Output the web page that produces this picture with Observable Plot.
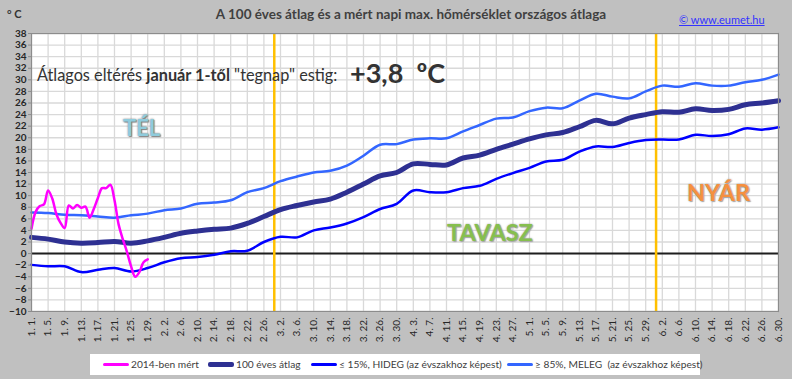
<!DOCTYPE html>
<html><head><meta charset="utf-8">
<script src="https://cdn.jsdelivr.net/npm/d3@7"></script>
<script src="https://cdn.jsdelivr.net/npm/@observablehq/plot@0.6"></script>
<style>
body{margin:0;background:#c0c0c0;}
#wrap{position:relative;width:792px;height:379px;background:#c0c0c0;overflow:hidden;font-family:Lato,"Liberation Sans",sans-serif;color:#404040;}
#wrap svg{position:absolute;left:0;top:0;}
.abs{position:absolute;white-space:nowrap;}
#unit{left:7px;top:7px;font-size:11px;font-weight:bold;color:#333;}
#title{left:0;width:822px;text-align:center;top:6px;font-size:13.5px;font-weight:bold;color:#404040;}
#link{left:679px;top:13px;font-size:11px;color:#3333ff;text-decoration:underline;}
#note{left:37px;top:65px;font-size:16.3px;color:#333;}
#dev{left:350px;top:56px;font-size:27px;font-weight:bold;color:#333;}
.season{font-weight:bold;}
#tel{left:123px;top:114px;font-size:22px;color:#8fcbdc;text-shadow:0 0 2px #777,1px 1px 1px #888;}
#tavasz{left:447px;top:218px;font-size:23.5px;color:#86bf4e;text-shadow:0 0 2px #999,1px 1px 1px #aaa;}
#nyar{left:687px;top:178px;font-size:23.5px;color:#f5903f;text-shadow:0 0 2px #999,1px 1px 1px #aaa;}
#legend{left:90px;top:354px;width:610px;height:21px;background:#fff;font-size:10.2px;color:#404040;}
.li{position:absolute;top:4px;display:flex;align-items:center;white-space:nowrap;}
.sw{display:inline-block;width:26px;margin-right:2px;border-radius:2px;}
</style></head><body>
<div id="wrap"></div>
<script>
// ---- data ----
const tickLabels = ["1. 1.","1. 5.","1. 9.","1. 13.","1. 17.","1. 21.","1. 25.","1. 29.","2. 2.","2. 6.","2. 10.","2. 14.","2. 18.","2. 22.","2. 26.","3. 2.","3. 6.","3. 10.","3. 14.","3. 18.","3. 22.","3. 26.","3. 30.","4. 3.","4. 7.","4. 11.","4. 15.","4. 19.","4. 23.","4. 27.","5. 1.","5. 5.","5. 9.","5. 13.","5. 17.","5. 21.","5. 25.","5. 29.","6. 2.","6. 6.","6. 10.","6. 14.","6. 18.","6. 22.","6. 26.","6. 30."];
const avg100 = [2.8,2.5,2.0,1.8,1.9,2.1,1.8,2.2,2.8,3.5,3.9,4.2,4.4,5.2,6.4,7.6,8.3,8.9,9.4,10.6,12.0,13.4,14.0,15.5,15.4,15.3,16.5,17.0,18.0,18.9,19.8,20.5,20.9,21.9,23.0,22.4,23.4,24.0,24.5,24.4,25.0,24.7,24.9,25.7,26.0,26.4];
const cold15 = [-1.95,-2.2,-2.2,-3.2,-2.8,-2.5,-3.1,-2.5,-1.5,-0.8,-0.6,-0.2,0.4,0.5,2.0,2.9,2.8,4.0,4.5,5.2,6.3,7.7,8.6,10.9,10.6,10.6,11.3,11.7,12.9,13.9,14.8,15.9,16.2,17.6,18.5,18.4,19.1,19.6,19.7,19.7,20.5,20.3,20.6,21.6,21.4,21.8];
const warm85 = [7.1,7.0,6.7,6.6,6.4,6.2,6.6,6.9,7.5,7.8,8.6,8.8,9.2,10.6,11.3,12.5,13.3,14.0,14.3,15.2,16.9,18.8,18.9,19.7,19.9,19.9,21.1,22.2,23.3,23.5,24.6,25.2,25.1,26.4,27.6,27.1,26.8,28.0,29.0,28.8,29.4,29.0,29.0,29.6,30.0,30.9];
const measured2014 = [4.3,7.2,8.2,8.5,10.9,9.5,6.8,5.3,4.4,8.3,7.8,8.4,7.9,8.1,6.2,7.7,9.6,11.3,11.3,11.9,9.2,5.0,2.5,0.3,-2.2,-4.0,-3.2,-1.5,-1.0];
const seasonStarts = ["3. 1.","6. 1."];
const yTicks = [-10,-8,-6,-4,-2,0,2,4,6,8,10,12,14,16,18,20,22,24,26,28,30,32,34,36,38];
const deviation = "+3,8";

// ---- helpers ----
const start = new Date(2014,0,1);
function dayIndex(s){const [m,d]=s.split(".").map(t=>+t.trim()); return d3.timeDay.count(start,new Date(2014,m-1,d));}
const tickDays = tickLabels.map(dayIndex);
const labelOf = new Map(tickDays.map((d,i)=>[d,tickLabels[i]]));
const clim = tickLabels.map((l,i)=>({day:tickDays[i],avg:avg100[i],cold:cold15[i],warm:warm85[i]}));
const meas = measured2014.map((v,i)=>({day:i,v}));
const bounds = seasonStarts.map(s=>dayIndex(s)-0.5);

const chart = Plot.plot({
  width:792,height:379,
  marginLeft:31,marginRight:14,marginTop:33,marginBottom:68,
  style:{background:"transparent",fontFamily:"Lato, 'Liberation Sans', sans-serif",color:"#262626"},
  x:{domain:[0,180],axis:null},
  y:{domain:[-10,38],axis:null},
  marks:[
    Plot.frame({fill:"white"}),
    Plot.gridY(yTicks,{stroke:"#d9d9d9",strokeOpacity:1,strokeWidth:1.3}),
    Plot.gridX(tickDays,{stroke:"#d9d9d9",strokeOpacity:1,strokeWidth:1.3}),
    Plot.ruleY([0],{stroke:"#1e1e1e",strokeWidth:2}),
    Plot.ruleX(bounds,{stroke:"#ffc000",strokeWidth:2.5}),
    Plot.line(clim,{x:"day",y:"warm",stroke:"#3366ff",strokeWidth:2.5,curve:"catmull-rom"}),
    Plot.line(clim,{x:"day",y:"cold",stroke:"#0000ff",strokeWidth:2.5,curve:"catmull-rom"}),
    Plot.line(clim,{x:"day",y:"avg",stroke:"#2e3092",strokeWidth:5,curve:"catmull-rom"}),
    Plot.line(meas,{x:"day",y:"v",stroke:"#ff00ff",strokeWidth:2.5,curve:"catmull-rom"}),
    Plot.frame({stroke:"#8c8c8c",strokeWidth:1.2}),
    Plot.axisY(yTicks,{tickSize:3,tickPadding:2,fontSize:10,fontWeight:"bold",stroke:"#8c8c8c",fill:"#262626",label:null}),
    Plot.axisX(tickDays,{tickSize:0,tickPadding:6,tickRotate:-90,fontSize:10,fill:"#262626",label:null,tickFormat:d=>labelOf.get(d)})
  ]
});
const wrap = document.getElementById("wrap");
wrap.appendChild(chart);

function add(id,html,cls="abs"){const e=document.createElement("div");e.id=id;e.className=cls;e.innerHTML=html;wrap.appendChild(e);return e;}
add("unit","° C");
add("title","A 100 éves átlag és a mért napi max. hőmérséklet országos átlaga");
add("link","© www.eumet.hu");
add("note",'Átlagos eltérés <b>január 1-től</b> "tegnap" estig:');
add("dev",deviation+"&nbsp; ºC");
add("tel","TÉL","abs season");
add("tavasz","TAVASZ","abs season");
add("nyar","NYÁR","abs season");
const lg = add("legend","");
const items = [["2014-ben mért","#ff00ff",3,13],["100 éves átlag","#2e3092",5,118],["≤ 15%, HIDEG (az évszakhoz képest)","#0000ff",3,221],["≥ 85%, MELEG&nbsp; (az évszakhoz képest)","#3366ff",3,417]];
for(const [t,c,w,l] of items){
  const d=document.createElement("div");d.className="li";d.style.left=l+"px";
  d.innerHTML=`<span class="sw" style="height:${w}px;background:${c}"></span><span>${t}</span>`;
  lg.appendChild(d);
}
</script>
</body></html>
